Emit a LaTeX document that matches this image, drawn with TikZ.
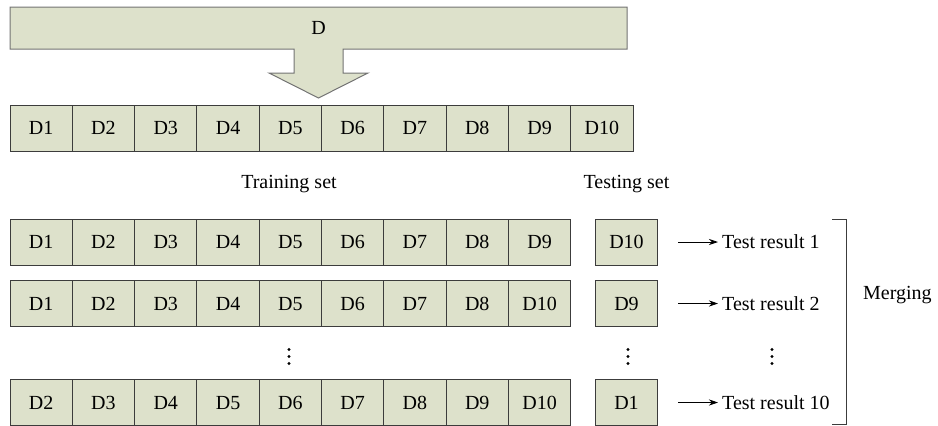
\documentclass[tikz,border=0pt]{standalone}
\usepackage{fontspec}
\setmainfont{Liberation Serif}
\usetikzlibrary{arrows.meta}
\definecolor{cellfill}{RGB}{221,225,203}
\definecolor{cellline}{RGB}{60,60,60}
\tikzset{
  txt/.style={font=\fontsize{20}{24}\selectfont, inner sep=0pt},
  cell/.style={txt, draw=cellline, fill=cellfill, line width=0.9pt,
    text height=13.5pt, text depth=0pt,
    minimum width=62.3pt, minimum height=46pt, outer sep=0pt},
  tcell/.style={cell, minimum width=62pt},
  res/.style={-{Stealth[length=9pt,width=6pt]}, line width=0.8pt, black, shorten >=4pt},
  vdot/.style={circle, fill=black, inner sep=0pt, minimum size=3.2pt},
}
\begin{document}
\begin{tikzpicture}[x=1pt,y=-1pt]
\useasboundingbox (0,0) rectangle (938,426);
% big D bar with arrow
\draw[draw=gray!90!black, fill=cellfill, line width=1pt]
  (10,7) -- (627,7) -- (627,49) -- (343,49) -- (343,73) -- (368,73)
  -- (318.5,98) -- (269,73) -- (294,73) -- (294,49) -- (10,49) -- cycle;
\node[txt] (D) at (318.5,28) {D};
% full row
\foreach \i in {1,...,10} {
  \node[cell] (a\i) at ({10+62.3*(\i-0.5)},128) {D\i};
}
\node[txt] (train) at (289,184) {Training set};
\node[txt] (test) at (626.5,184) {Testing set};
% row 1
\foreach \i in {1,...,9} {
  \node[cell] (b\i) at ({10+62.3*(\i-0.5)},242) {D\i};
}
\node[tcell] (bt) at (626.5,242) {D10};
% row 2
\foreach \i/\l in {1/1,2/2,3/3,4/4,5/5,6/6,7/7,8/8,9/10} {
  \node[cell] (c\i) at ({10+62.3*(\i-0.5)},303.5) {D\l};
}
\node[tcell] (ct) at (626.5,303.5) {D9};
% row 10
\foreach \i/\l in {1/2,2/3,3/4,4/5,5/6,6/7,7/8,8/9,9/10} {
  \node[cell] (d\i) at ({10+62.3*(\i-0.5)},402.5) {D\l};
}
\node[tcell] (dt) at (626.5,402.5) {D1};
% vertical dots
\foreach \x/\n in {289/p,628/q,772/r} {
  \foreach \y/\k in {349.5/1,356.5/2,363.5/3} {
    \node[vdot] (\n\k) at (\x,\y) {};
  }
}
% results
\node[txt, anchor=west] (r1) at (722,242) {Test result 1};
\node[txt, anchor=west] (r2) at (722,303.5) {Test result 2};
\node[txt, anchor=west] (r10) at (722,402.5) {Test result 10};
\coordinate (s1) at (678,242);
\coordinate (s2) at (678,303.5);
\coordinate (s10) at (678,402.5);
\draw[res] (s1) -- (r1.west);
\draw[res] (s2) -- (r2.west);
\draw[res] (s10) -- (r10.west);
% bracket
\draw[line width=0.9pt, cellline] (832,219.3) -- (846,219.3) -- (846,424) -- (832,424);
\node[txt, anchor=west] (merge) at (863,295) {Merging};
\end{tikzpicture}
\end{document}
